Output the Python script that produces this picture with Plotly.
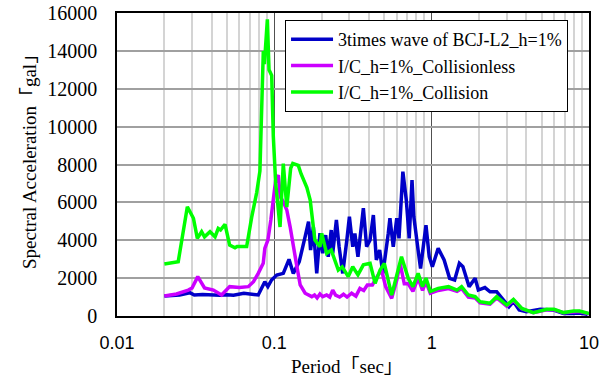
import plotly.graph_objects as go

blue_T = [0.020, 0.025, 0.029, 0.031, 0.035, 0.04, 0.045, 0.05, 0.055, 0.064, 0.07, 0.079,
          0.087, 0.091, 0.096, 0.1036, 0.114, 0.124, 0.132, 0.144, 0.157, 0.165, 0.17, 0.177,
          0.186, 0.195, 0.203, 0.212, 0.22, 0.23, 0.235, 0.248, 0.258, 0.272, 0.289, 0.3,
          0.315, 0.325, 0.34, 0.368, 0.386, 0.406, 0.426, 0.445, 0.467, 0.49, 0.53, 0.543,
          0.57, 0.6, 0.62, 0.656, 0.69, 0.72, 0.75, 0.77, 0.82, 0.85, 0.92, 0.965, 1.01,
          1.10, 1.2, 1.3, 1.4, 1.5, 1.58, 1.73, 1.89, 1.98, 2.18, 2.35, 2.59, 2.87, 3.1,
          3.31, 3.6, 4.0, 4.9, 5.9, 6.9, 7.8, 8.7, 9.8]
blue_V = [1060, 1110, 1230, 1110, 1130, 1100, 1100, 1120, 1100, 1200, 1150, 1110,
          1810, 1550, 1900, 2160, 2250, 2990, 2250, 2870, 4190, 4980, 3480, 4710,
          2250, 4370, 3310, 4270, 3130, 4540, 3310, 5070, 3660, 2250, 4010, 5240,
          3660, 4360, 3130, 5690, 3660, 4010, 5330, 2960, 3480, 2250, 4370, 5160,
          3650, 5160, 4100, 7620, 6120, 4100, 7180, 5250, 3480, 2510, 4800, 3130, 2600,
          3570, 2960, 1990, 1900, 2780, 2600, 1550, 1990, 1370, 1500, 1280, 1280, 845, 490,
          760, 320, 230, 350, 320, 130, 130, 160, 90]

mag_T = [0.020, 0.0239, 0.0284, 0.030, 0.0326, 0.0345, 0.036, 0.041, 0.0462, 0.052, 0.06,
         0.0683, 0.0737, 0.079, 0.085, 0.087, 0.091, 0.095, 0.098, 0.102, 0.106, 0.109,
         0.114, 0.12, 0.126, 0.132, 0.138, 0.146, 0.157, 0.173, 0.18, 0.187, 0.195, 0.203,
         0.215, 0.225, 0.235, 0.245, 0.26, 0.275, 0.29, 0.31, 0.33, 0.35, 0.37, 0.39, 0.42,
         0.45, 0.48, 0.51, 0.557, 0.6, 0.63, 0.67, 0.71, 0.76, 0.82, 0.875, 0.92, 0.98,
         1.10, 1.28, 1.45, 1.55, 1.71, 1.89, 2.03, 2.35, 2.59, 3.0, 3.31, 3.74, 4.43, 5.39,
         6.0, 6.88, 8.0, 8.7, 10.0]
mag_V = [1060, 1160, 1370, 1480, 2080, 1740, 1480, 1370, 1110, 1550, 1500,
         1550, 1810, 2250, 2780, 3570, 4010, 5070, 6120, 7180, 7440, 6300,
         6030, 5600, 4710, 3840, 2780, 1640, 1200, 1020, 1110, 950, 1160, 1020,
         1110, 1000, 1370, 1100, 1000, 1150, 1000, 1200, 1050, 1460, 1350, 1640, 1640,
         2080, 2430, 1550, 930, 1900, 2780, 1700, 1700, 1300, 2000, 1350, 1800, 1200,
         1350, 1450, 1300, 1450, 1000, 950, 700, 620, 950, 520, 820, 380, 170, 330,
         330, 170, 240, 240, 120]

green_T = [0.020, 0.0245, 0.028, 0.0306, 0.0324, 0.0345, 0.036, 0.039, 0.042, 0.044, 0.0455,
           0.0486, 0.052, 0.0562, 0.058, 0.0667, 0.0718, 0.0773, 0.081, 0.0851, 0.0865,
           0.0903, 0.0925, 0.0962, 0.0985, 0.102, 0.1087, 0.114, 0.12, 0.127, 0.131, 0.142,
           0.148, 0.153, 0.161, 0.169, 0.177, 0.181, 0.195, 0.2, 0.215, 0.23, 0.255, 0.27,
           0.295, 0.315, 0.34, 0.368, 0.406, 0.437, 0.47, 0.5, 0.557, 0.643, 0.71, 0.76,
           0.82, 0.875, 0.92, 0.98, 1.10, 1.28, 1.45, 1.55, 1.71, 1.89, 2.03, 2.35, 2.59,
           3.0, 3.31, 3.74, 4.43, 5.39, 6.0, 6.88, 8.0, 8.7, 10.0]
green_V = [2750, 2870, 5770, 5160, 4100, 4450, 4180, 4450, 4180, 4620, 4540,
           4840, 3740, 3600, 3670, 3670, 5220, 6530, 7660, 13990, 13300,
           15670, 13000, 12700, 9500, 7000, 4700, 8050, 5750, 7800, 8050, 7950,
           7500, 7180, 6780, 6120, 4710, 4010, 3660, 4360, 3310, 3480, 2430, 2600,
           2080, 2600, 2170, 2700, 2780, 1720, 2430, 2780, 1100, 3130, 1990, 1550,
           2250, 1550, 2000, 1300, 1460, 1550, 1370, 1550, 1110, 1020, 760, 670, 1020,
           580, 880, 400, 180, 350, 350, 180, 260, 260, 130]

series_names = ["3times wave of BCJ-L2_h=1%", "I/C_h=1%_Collisionless", "I/C_h=1%_Collision"]
series_colors = ["#0000C8", "#CC00FF", "#00FF00"]

x_tickvals = [0.01, 0.1, 1, 10]
x_ticktext = ["0.01", "0.1", "1", "10"]
y_tickvals = [0, 2000, 4000, 6000, 8000, 10000, 12000, 14000, 16000]
y_ticktext = ["0", "2000", "4000", "6000", "8000", "10000", "12000", "14000", "16000"]

minor_vals = [m * d for d in (0.01, 0.1, 1) for m in range(2, 10)]

SERIF = "Liberation Serif, Times New Roman, Noto Sans CJK JP, serif"
SANS = "Liberation Sans, Arial, sans-serif"

fig = go.Figure()
for T, V, name, col in zip([blue_T, mag_T, green_T], [blue_V, mag_V, green_V],
                           series_names, series_colors):
    fig.add_trace(go.Scatter(x=T, y=V, mode="lines", name=name,
                             line=dict(color=col, width=3.5)))

fig.update_layout(
    template="none",
    width=613, height=380,
    margin=dict(l=117, r=24, t=13, b=64, pad=0),
    plot_bgcolor="white", paper_bgcolor="white",
    showlegend=True,
    legend=dict(x=0.356, y=0.977, xanchor="left", yanchor="top",
                bgcolor="white", bordercolor="black", borderwidth=1,
                font=dict(family=SERIF, size=18, color="black"),
                tracegroupgap=0, itemwidth=42),
    xaxis=dict(type="log", range=[-2, 1], tickvals=x_tickvals, ticktext=x_ticktext,
               showgrid=True, gridcolor="#505050", gridwidth=1,
               minor=dict(tickvals=minor_vals, showgrid=True, gridcolor="#d4d4d4",
                          gridwidth=1.5, ticks=""),
               showline=True, linecolor="black", linewidth=1.5, mirror=True,
               ticks="", tickfont=dict(family=SANS, size=18, color="black"),
               ticklabelstandoff=10, automargin=False, zeroline=False),
    yaxis=dict(range=[0, 16000], tickvals=y_tickvals, ticktext=y_ticktext,
               showgrid=True, gridcolor="#a0a0a0", gridwidth=1.5,
               showline=True, linecolor="black", linewidth=1.5, mirror=True,
               ticks="", tickfont=dict(family=SERIF, size=20, color="black"),
               ticklabelstandoff=14, automargin=False, zeroline=False),
    annotations=[
        dict(text="Period「sec」", xref="paper", yref="paper", x=0.487, y=-0.168,
             xanchor="center", yanchor="middle", showarrow=False,
             font=dict(family=SERIF, size=19, color="black")),
        dict(text="Spectral Acceleration「gal」", xref="paper", yref="paper",
             x=-0.184, y=0.525, xanchor="center", yanchor="middle", textangle=-90,
             showarrow=False, font=dict(family=SERIF, size=19, color="black")),
    ],
)

fig.write_html("out.html", config={"displayModeBar": False},
               post_script="document.body.style.margin='0';")
